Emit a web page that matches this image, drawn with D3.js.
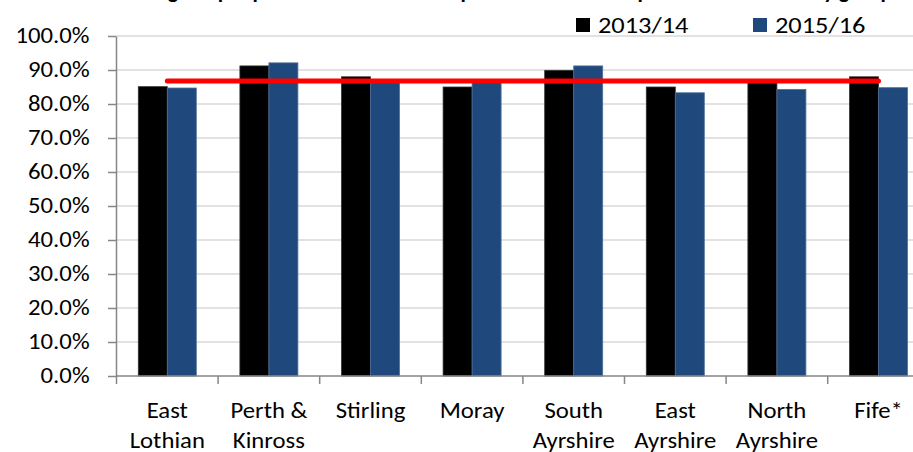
<!DOCTYPE html>
<html>
<head>
<meta charset="utf-8">
<script src="https://cdn.jsdelivr.net/npm/d3@7"></script>
<style>
  body { margin: 0; background: #fff; }
  svg { display: block; font-family: Carlito, Lato, "Liberation Sans", sans-serif; }
</style>
</head>
<body>
<svg id="chart" width="913" height="452"></svg>
<script>
// chart data
const categories = ["East Lothian", "Perth & Kinross", "Stirling", "Moray", "South Ayrshire", "East Ayrshire", "North Ayrshire", "Fife*"];
const labelLines = [["East", "Lothian"], ["Perth &", "Kinross"], ["Stirling"], ["Moray"], ["South", "Ayrshire"], ["East", "Ayrshire"], ["North", "Ayrshire"], ["Fife*"]];
const seriesNames = ["2013/14", "2015/16"];
const values2013 = [85.1, 91.2, 88.0, 85.0, 89.9, 85.0, 86.8, 88.0];
const values2015 = [84.7, 92.1, 86.5, 86.6, 91.2, 83.3, 84.3, 84.8];
const averageLine = [86.8, 86.8, 86.8, 86.8, 86.8, 86.8, 86.8, 86.8];
const yTicks = [0, 10, 20, 30, 40, 50, 60, 70, 80, 90, 100];
const titleText = "Percentage of people satisfied with local public services compared with the family group";

const colors = ["#000000", "#1F497D"];

const svg = d3.select('#chart');
const W = 913;
const SX = 1.15; // the reference font is wider than Lato

// stretch a text horizontally around its anchor point
function stretch(sel, sx, ax, ay) {
  sel.attr('transform', `translate(${ax},${ay}) scale(${sx},1) translate(${-ax},${-ay})`);
}

// scales
const y = d3.scaleLinear().domain([0, 100]).range([376, 36]);
const x = d3.scaleBand().domain(categories).range([116.5, 116.5 + 8 * 101.6]).padding(0);
const x1 = d3.scaleBand().domain(seriesNames).range([21.8, x.bandwidth() - 21.8]).padding(0);

// title (mostly cut off at the top)
svg.append('text')
  .attr('x', 490).attr('y', -2)
  .attr('text-anchor', 'middle')
  .attr('font-weight', 'bold')
  .attr('font-size', 22)
  .text(titleText);

// gridlines
svg.append('g')
  .selectAll('line')
  .data(yTicks.slice(1))
  .enter().append('line')
  .attr('x1', 116).attr('x2', W)
  .attr('y1', d => y(d)).attr('y2', d => y(d))
  .attr('stroke', '#d9d9d9').attr('stroke-width', 1.5);

// y axis
const yAxis = svg.append('g')
  .attr('transform', 'translate(116,0)')
  .call(d3.axisLeft(y).tickValues(yTicks).tickSize(8).tickSizeOuter(0).tickPadding(15)
    .tickFormat(d => d.toFixed(1) + '%'));
yAxis.select('.domain').attr('stroke', '#868686').attr('stroke-width', 1.5);
yAxis.selectAll('.tick line').attr('stroke', '#868686').attr('stroke-width', 1.5);
yAxis.selectAll('.tick text').attr('font-size', 21.5).attr('fill', '#000')
  .attr('font-family', 'Carlito, Lato, sans-serif')
  .attr('transform', `scale(${SX},1)`);

// bars
const groups = svg.append('g')
  .selectAll('g')
  .data(categories)
  .enter().append('g')
  .attr('transform', d => `translate(${x(d)},0)`);

groups.selectAll('rect')
  .data((d, i) => [
    { key: seriesNames[0], value: values2013[i] },
    { key: seriesNames[1], value: values2015[i] }
  ])
  .enter().append('rect')
  .attr('x', d => x1(d.key))
  .attr('y', d => y(d.value))
  .attr('width', x1.bandwidth())
  .attr('height', d => y(0) - y(d.value))
  .attr('fill', (d, i) => colors[i])
  .attr('stroke', (d, i) => i === 0 ? '#333' : '#4f6f99')
  .attr('stroke-width', 0.8);

// x axis
const xAxisG = svg.append('g').attr('transform', `translate(0,${y(0)})`);
xAxisG.append('line')
  .attr('x1', 116).attr('x2', W)
  .attr('y1', 0).attr('y2', 0)
  .attr('stroke', '#868686').attr('stroke-width', 1.5);
xAxisG.selectAll('line.tick')
  .data(categories)
  .enter().append('line')
  .attr('class', 'tick')
  .attr('x1', d => x(d)).attr('x2', d => x(d))
  .attr('y1', 0).attr('y2', 8)
  .attr('stroke', '#868686').attr('stroke-width', 1.5);

// category labels
svg.append('g')
  .selectAll('text')
  .data(categories)
  .enter().append('text')
  .attr('text-anchor', 'middle')
  .attr('font-size', 21.5)
  .attr('fill', '#000')
  .each(function (d, i) {
    const t = d3.select(this);
    const cx = x(d) + x.bandwidth() / 2;
    labelLines[i].forEach((ln, j) => {
      t.append('tspan')
        .attr('x', cx)
        .attr('y', 418 + j * 30)
        .text(ln);
    });
    stretch(t, SX, cx, 0);
  });

// average line
const line = d3.line()
  .x((d, i) => x(categories[i]) + x.bandwidth() / 2)
  .y(d => y(d));
svg.append('path')
  .datum(averageLine)
  .attr('d', line)
  .attr('fill', 'none')
  .attr('stroke', '#FF0000')
  .attr('stroke-width', 5)
  .attr('stroke-linecap', 'round');

// legend
const legendX = [576, 753];
const legend = svg.append('g')
  .selectAll('g')
  .data(seriesNames)
  .enter().append('g')
  .attr('transform', (d, i) => `translate(${legendX[i]},18)`);
legend.append('rect')
  .attr('width', 14).attr('height', 14)
  .attr('fill', (d, i) => colors[i]);
legend.append('text')
  .attr('x', 22).attr('y', 15)
  .attr('font-size', 22)
  .attr('fill', '#000')
  .text(d => d)
  .each(function () { stretch(d3.select(this), 1.2, 22, 0); });
</script>
</body>
</html>
